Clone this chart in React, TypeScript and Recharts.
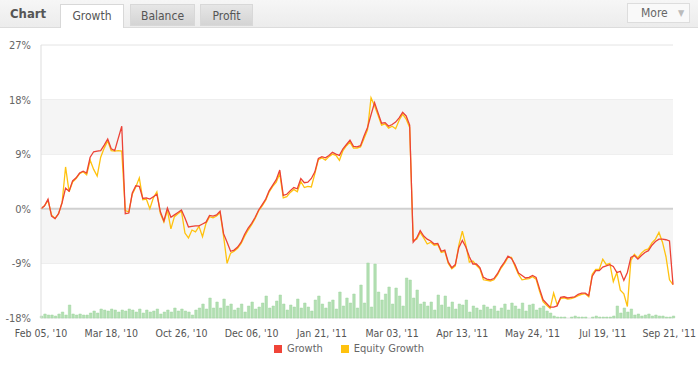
import React from "react";
import {
  ComposedChart,
  Line,
  Bar,
  XAxis,
  YAxis,
  CartesianGrid,
  ReferenceArea,
  ReferenceLine,
} from "recharts";

const tickLabels = [
  "Feb 05, '10",
  "Mar 18, '10",
  "Oct 26, '10",
  "Dec 06, '10",
  "Jan 21, '11",
  "Mar 03, '11",
  "Apr 13, '11",
  "May 24, '11",
  "Jul 19, '11",
  "Sep 21, '11",
];

const growth = [
  0.0, 0.5, 1.6, -1.2, -1.6, -0.8, 1.0, 3.4, 2.9, 4.6,
  5.1, 5.9, 6.2, 5.9, 8.5, 9.4, 9.5, 9.6, 10.5, 11.5,
  9.9, 9.6, 11.6, 13.6, -0.8, -0.7, 2.6, 3.8, 3.7, 1.7,
  1.8, 1.6, 2.0, 2.4, -0.5, -2.0, 0.1, -1.4, -1.0, -0.6,
  -0.2, -1.5, -3.0, -2.9, -2.8, -2.8, -2.5, -2.2, -1.1, -1.2,
  -1.0, -0.4, -4.1, -5.5, -7.0, -6.8, -6.3, -5.5, -4.2, -3.2,
  -2.4, -1.4, -0.2, 0.7, 1.6, 3.0, 3.9, 4.8, 6.4, 2.2,
  2.4, 3.0, 3.5, 3.3, 5.0, 4.3, 4.4, 5.0, 6.1, 8.3,
  8.6, 8.4, 8.8, 9.3, 9.0, 8.8, 9.9, 10.6, 11.3, 10.3,
  10.2, 10.4, 12.0, 13.4, 15.5, 17.5, 15.8, 14.1, 14.2, 13.6,
  13.9, 14.3, 15.0, 15.9, 15.3, 13.8, -5.5, -4.8, -3.6, -4.5,
  -5.0, -5.3, -5.8, -5.7, -7.0, -6.8, -8.8, -9.7, -9.2, -6.4,
  -5.2, -6.3, -7.9, -9.1, -9.1, -9.7, -11.3, -11.6, -11.7, -11.5,
  -10.7, -9.6, -8.8, -7.8, -8.2, -9.2, -10.6, -11.0, -11.4, -11.3,
  -11.0, -11.3, -13.2, -15.0, -15.6, -16.2, -16.2, -16.0, -14.6, -14.5,
  -14.7, -14.6, -14.5, -14.1, -13.9, -13.9, -14.3, -11.1, -10.2, -10.2,
  -9.6, -9.4, -9.2, -9.5, -10.5, -10.3, -11.8, -10.5, -8.0, -7.7,
  -8.3, -7.7, -7.2, -6.9, -6.0, -5.4, -5.0, -5.0, -5.1, -5.3,
  -12.5,
];

const equity = [
  0.0, 0.5, 1.4, -1.0, -1.6, -0.8, 1.0, 6.9, 2.8, 4.4,
  5.0, 5.8, 6.1, 5.6, 8.0, 6.5, 5.4, 8.5, 10.0, 11.2,
  9.6, 9.5, 9.6, 9.5, -0.3, -0.5, 2.4, 3.6, 5.1, 1.5,
  1.6, 0.0, 1.8, 2.8, -0.8, -2.2, -0.2, -3.3, -1.3, -0.8,
  -0.4, -4.0, -4.8, -3.5, -3.8, -2.9, -4.6, -2.4, -1.3, -1.5,
  -1.2, -0.6, -4.5, -9.0, -7.3, -7.0, -6.5, -5.7, -4.5, -3.5,
  -2.6, -1.6, -0.3, 0.5, 1.4, 2.8, 3.7, 4.4, 5.8, 1.8,
  2.0, 2.7, 3.2, 2.8, 4.5, 3.5, 3.7, 3.6, 5.8, 8.1,
  8.4, 8.0, 8.6, 9.0, 8.8, 8.0, 9.6, 10.4, 11.0, 10.0,
  10.0, 10.2, 11.6, 13.0, 18.3, 17.0, 15.4, 13.8, 14.0, 13.3,
  13.6, 13.2, 14.6, 15.6, 14.8, 13.4, -5.2, -5.0, -3.9, -4.8,
  -5.8, -5.5, -6.0, -5.9, -7.2, -7.0, -9.0, -9.9, -9.4, -6.0,
  -3.7, -6.0, -8.8, -8.6, -9.3, -9.9, -11.7, -11.8, -11.9, -11.7,
  -10.9, -9.8, -9.0, -8.0, -8.0, -9.5, -10.8, -11.7, -11.6, -11.5,
  -11.2, -11.6, -13.6, -15.3, -15.9, -16.4, -13.9, -15.8, -14.8, -14.7,
  -14.9, -14.8, -14.6, -14.3, -14.1, -14.0, -14.5, -10.8, -10.0, -10.0,
  -8.3, -9.2, -9.0, -12.0, -10.5, -13.4, -14.0, -16.1, -8.5, -7.5,
  -8.1, -7.3, -6.8, -6.6, -5.6, -5.0, -3.9, -5.5, -7.9, -11.7,
  -12.5,
];

const volume = [
  2, 4, 3, 3, 2, 4, 6, 3, 13, 4,
  3, 4, 3, 3, 5, 7, 5, 9, 8, 7,
  9, 8, 6, 8, 7, 9, 8, 6, 9, 5,
  8, 6, 7, 9, 4, 6, 8, 6, 10, 7,
  9, 7, 6, 3, 8, 10, 14, 9, 20, 10,
  16, 10, 19, 12, 14, 8, 10, 14, 6, 12,
  16, 9, 11, 15, 22, 10, 12, 17, 23, 14,
  8, 13, 11, 19, 10, 15, 11, 7, 18, 22,
  14, 10, 16, 18, 9, 26, 12, 20, 15, 24,
  10, 33, 15, 55, 11, 54, 26, 18, 24, 31,
  14, 30, 22, 12, 40, 38, 20, 28, 14, 16,
  12, 16, 8, 23, 13, 22, 11, 16, 9, 14,
  13, 18, 6, 12, 10, 8, 13, 11, 9, 12,
  7, 10, 14, 8, 15, 12, 9, 15, 7, 13,
  14, 8, 10, 12, 7, 5, 2, 1, 1, 1,
  0, 1, 2, 1, 1, 1, 0, 1, 2, 1,
  1, 1, 1, 2, 12, 5, 10, 6, 9, 3,
  4, 2, 3, 4, 2, 3, 2, 2, 1, 1,
  2,
];

const yTicks = [-18, -9, 0, 9, 18, 27];

const data = growth.map((g, i) => ({
  idx: i,
  growth: g,
  equity: equity[i],
  volume: volume[i],
}));

const step = (growth.length - 1) / (tickLabels.length - 1);
const xTicks = tickLabels.map((_, i) => i * step);

const font = "Tahoma, 'DejaVu Sans Condensed', 'DejaVu Sans', sans-serif";

const Tab = ({ label, active, left, width }: any) => (
  <div
    style={{
      position: "absolute",
      left,
      top: 4,
      width,
      height: active ? 24 : 22,
      boxSizing: "border-box",
      border: "1px solid #d8d8d8",
      borderBottom: active ? "none" : "1px solid #d8d8d8",
      background: active ? "#ffffff" : "linear-gradient(#e6e6e6, #d4d4d4)",
      color: "#555",
      fontSize: 12,
      textAlign: "center",
      lineHeight: "22px",
    }}
  >
    {label}
  </div>
);

// keeps the last date inside the picture
const DateTick = ({ x, y, payload, index }: any) => {
  const last = index === tickLabels.length - 1;
  return (
    <text
      x={last ? 696 : x}
      y={y + 4}
      dy="0.71em"
      textAnchor={last ? "end" : "middle"}
      fill="#555"
      fontSize={10.5}
    >
      {tickLabels[Math.round(payload.value / step)]}
    </text>
  );
};

const App = () => {
  return (
    <div style={{ position: "relative", width: 698, height: 377, fontFamily: font, background: "#fff" }}>
      <style>{"body{margin:0}"}</style>
      <div
        style={{
          position: "absolute",
          left: 0,
          top: 0,
          width: 698,
          height: 27,
          background: "linear-gradient(#f6f6f6, #ececec)",
          borderBottom: "1px solid #dcdcdc",
        }}
      />
      <div style={{ position: "absolute", left: 10, top: 6, fontSize: 13, fontWeight: "bold", color: "#555" }}>Chart</div>
      <Tab label="Growth" active left={60} width={64} />
      <Tab label="Balance" left={130} width={65} />
      <Tab label="Profit" left={200} width={53} />
      <div
        style={{
          position: "absolute",
          left: 627,
          top: 3,
          width: 63,
          height: 20,
          boxSizing: "border-box",
          border: "1px solid #dddddd",
          background: "#f9f9f9",
          color: "#666",
          fontSize: 12,
          lineHeight: "18px",
        }}
      >
        <span style={{ position: "absolute", left: 13 }}>More</span>
        <span style={{ position: "absolute", left: 50, fontSize: 9, color: "#bbb" }}>▼</span>
      </div>

      <div style={{ position: "absolute", left: 0, top: 30 }}>
        <ComposedChart
          width={698}
          height={312}
          data={data}
          margin={{ top: 15, right: 25, bottom: 0, left: 0 }}
        >
          <ReferenceArea yAxisId="g" y1={9} y2={18} fill="#f5f5f5" fillOpacity={1} stroke="none" ifOverflow="hidden" />
          <ReferenceArea yAxisId="g" y1={-9} y2={0} fill="#f5f5f5" fillOpacity={1} stroke="none" ifOverflow="hidden" />
          <CartesianGrid vertical={false} stroke="#e4e4e4" yAxisId="g" />
          <XAxis
            dataKey="idx"
            type="number"
            domain={[0, growth.length - 1]}
            ticks={xTicks}
            axisLine={false}
            tickLine={false}
            interval={0}
            height={24}
            tick={<DateTick />}
          />
          <YAxis
            yAxisId="g"
            domain={[-18, 27]}
            ticks={yTicks}
            tickFormatter={(v: number) => `${v}%`}
            width={41}
            axisLine={{ stroke: "#dddddd" }}
            tickLine={false}
            tick={{ fill: "#666", fontSize: 11 }}
            tickMargin={4}
            interval={0}
          />
          <YAxis
            yAxisId="v"
            orientation="right"
            domain={[0, 273]}
            width={0}
            tick={false}
            tickLine={false}
            axisLine={{ stroke: "#dddddd" }}
          />
          <ReferenceLine yAxisId="g" y={0} stroke="#d0d0d0" strokeWidth={2} />
          <Bar
            yAxisId="v"
            dataKey="volume"
            fill="#b2dfb2"
            stroke="#a3d6a3"
            strokeWidth={0.5}
            barSize={2.5}
            isAnimationActive={false}
            legendType="none"
          />
          <Line
            yAxisId="g"
            dataKey="equity"
            type="linear"
            stroke="#ffc20e"
            strokeWidth={1.3}
            dot={false}
            isAnimationActive={false}
          />
          <Line
            yAxisId="g"
            dataKey="growth"
            type="linear"
            stroke="#ec4236"
            strokeWidth={1.3}
            dot={false}
            isAnimationActive={false}
          />
        </ComposedChart>
      </div>

      <div
        style={{
          position: "absolute",
          top: 342,
          left: 0,
          width: 698,
          display: "flex",
          justifyContent: "center",
          fontSize: 11,
          color: "#666",
          gap: 18,
        }}
      >
        <span style={{ display: "flex", alignItems: "center" }}>
          <span style={{ width: 8, height: 8, background: "#f04438", marginRight: 5 }} />
          Growth
        </span>
        <span style={{ display: "flex", alignItems: "center" }}>
          <span style={{ width: 8, height: 8, background: "#ffc20e", marginRight: 5 }} />
          Equity Growth
        </span>
      </div>
    </div>
  );
};

export default App;
